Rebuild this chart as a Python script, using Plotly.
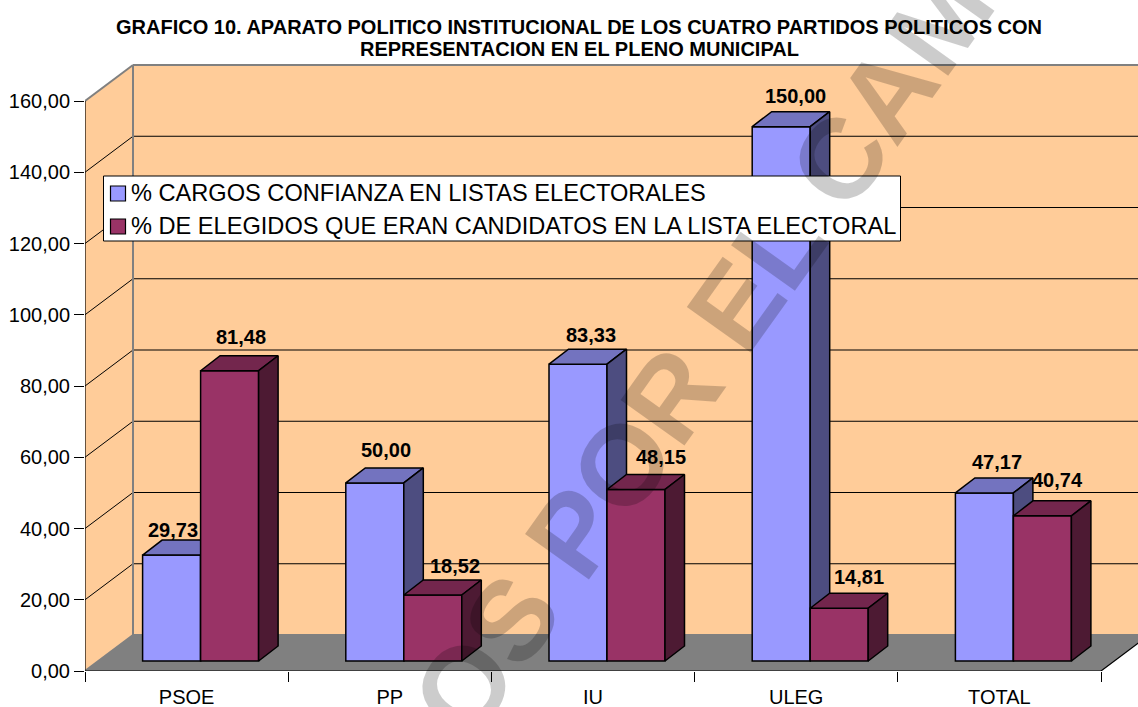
import plotly.graph_objects as go

categories = ["PSOE", "PP", "IU", "ULEG", "TOTAL"]
cargos = [29.73, 50.00, 83.33, 150.00, 47.17]
elegidos = [81.48, 18.52, 48.15, 14.81, 40.74]
y_ticks = [0, 20, 40, 60, 80, 100, 120, 140, 160]
name_cargos = "% CARGOS CONFIANZA EN LISTAS ELECTORALES"
name_elegidos = "% DE ELEGIDOS QUE ERAN CANDIDATOS EN LA LISTA ELECTORAL"
title_line1 = "GRAFICO 10. APARATO POLITICO INSTITUCIONAL DE LOS CUATRO PARTIDOS POLITICOS CON"
title_line2 = "REPRESENTACION EN EL PLENO MUNICIPAL"
watermark = "OS POR EL CAM"

# label offsets relative to the front top-centre of each bar (px)
off_cargos = [(1, 25), (11, 33), (13, 29), (14, 31), (13, 31)]
off_elegidos = [(11, 34), (22, 29), (25, 32), (20, 31), (15, 36)]

W, H = 1138, 707
FONT = "Liberation Sans, Arial, sans-serif"
PX_X = 203.2        # px per category
PX_Y = 3.5625       # px per value unit
X_LEFT, Y_ZERO, Y_TOP = 85, 671, 58.25
xmin = -0.5
xmax = xmin + (W - X_LEFT) / PX_X
ymax = (Y_ZERO - Y_TOP) / PX_Y
wall_dx, wall_dy = 48 / PX_X, 36 / PX_Y
bar_dx, bar_dy = 19.5 / PX_X, 15 / PX_Y
floor_base = 10 / PX_Y
bar_w = 58 / PX_X
off_a, off_b = -15 / PX_X, 43 / PX_X
top_val = y_ticks[-1]


def poly(points):
    return "M" + "L".join(f"{x},{y}" for x, y in points) + "Z"


shapes = []
WALL, FLOOR, GREY = "#FFCC99", "#808080", "#808080"
xr = xmin + wall_dx
# back wall and side wall
shapes.append(dict(type="rect", x0=xr, x1=xmax, y0=wall_dy, y1=top_val + wall_dy,
                   fillcolor=WALL, line_width=0, layer="below"))
shapes.append(dict(type="path", path=poly([(xmin, 0), (xr, wall_dy), (xr, top_val + wall_dy), (xmin, top_val)]),
                   fillcolor=WALL, line_width=0, layer="below"))
# floor
shapes.append(dict(type="path", path=poly([(xmin, 0), (4.5, 0), (4.5 + wall_dx, wall_dy), (xr, wall_dy)]),
                   fillcolor=FLOOR, line_width=0, layer="below"))
# gridlines
for t in y_ticks[1:-1]:
    shapes.append(dict(type="line", x0=xr, x1=xmax, y0=t + wall_dy, y1=t + wall_dy,
                       line=dict(color="#000000", width=1), layer="below"))
    shapes.append(dict(type="line", x0=xmin, x1=xr, y0=t, y1=t + wall_dy,
                       line=dict(color="#000000", width=1), layer="below"))
# wall borders
for a, b in [((xr, wall_dy), (xr, top_val + wall_dy)), ((xr, top_val + wall_dy), (xmax, top_val + wall_dy)),
             ((xmin, top_val), (xr, top_val + wall_dy)), ((xr, wall_dy), (xmax, wall_dy)),
             ((xmin, 0), (xr, wall_dy))]:
    shapes.append(dict(type="line", x0=a[0], y0=a[1], x1=b[0], y1=b[1],
                       line=dict(color=GREY, width=2), layer="below"))
# axis lines
for a, b in [((xmin, 0), (xmin, top_val)), ((xmin, 0), (4.5, 0)), ((4.5, 0), (4.5 + wall_dx, wall_dy))]:
    shapes.append(dict(type="line", x0=a[0], y0=a[1], x1=b[0], y1=b[1],
                       line=dict(color="#000000", width=1.2), layer="below"))

# legend box (paper coordinates) drawn above the chart
def px(v):
    return v / W


def py(v):
    return 1 - v / H


shapes.append(dict(type="rect", xref="paper", yref="paper", x0=px(103.5), x1=px(900.5), y0=py(176), y1=py(241),
                   fillcolor="#FFFFFF", line=dict(color="#000000", width=1), layer="above"))
shapes.append(dict(type="rect", xref="paper", yref="paper", x0=px(110.5), x1=px(125.5), y0=py(186), y1=py(201),
                   fillcolor="#9999FF", line=dict(color="#000000", width=1.2), layer="above"))
shapes.append(dict(type="rect", xref="paper", yref="paper", x0=px(110.5), x1=px(125.5), y0=py(219), y1=py(234),
                   fillcolor="#993366", line=dict(color="#000000", width=1.2), layer="above"))

fig = go.Figure()


def add_series(name, vals, offset, front, top, side, xa, ya):
    xs = [i + offset for i in range(len(vals))]
    fig.add_trace(go.Bar(x=xs, y=vals, base=[floor_base] * len(vals), width=bar_w, name=name,
                         marker=dict(color=front, line=dict(color="#000000", width=1.5)),
                         xaxis=xa, yaxis=ya, showlegend=False, hoverinfo="y"))
    for x, v in zip(xs, vals):
        l, r = x - bar_w / 2, x + bar_w / 2
        t = v + floor_base
        fig.add_trace(go.Scatter(x=[l, r, r + bar_dx, l + bar_dx, l], y=[t, t, t + bar_dy, t + bar_dy, t],
                                 fill="toself", fillcolor=top, mode="lines",
                                 line=dict(color="#000000", width=1.5), xaxis=xa, yaxis=ya,
                                 showlegend=False, hoverinfo="skip"))
        fig.add_trace(go.Scatter(x=[r, r + bar_dx, r + bar_dx, r, r],
                                 y=[floor_base, floor_base + bar_dy, t + bar_dy, t, floor_base],
                                 fill="toself", fillcolor=side, mode="lines",
                                 line=dict(color="#000000", width=1.5), xaxis=xa, yaxis=ya,
                                 showlegend=False, hoverinfo="skip"))


add_series(name_cargos, cargos, off_a, "#9999FF", "#7373BF", "#4D4D80", "x", "y")
add_series(name_elegidos, elegidos, off_b, "#993366", "#73264D", "#4D1A33", "x2", "y2")

annotations = []
VAL_SIZE = 20
for vals, offset, offs in [(cargos, off_a, off_cargos), (elegidos, off_b, off_elegidos)]:
    for i, (v, o) in enumerate(zip(vals, offs)):
        annotations.append(dict(x=i + offset, y=v + floor_base, xref="x", yref="y",
                                text=f"<b>{v:.2f}</b>".replace(".", ","), showarrow=False,
                                xanchor="center", yanchor="middle", xshift=o[0], yshift=o[1],
                                font=dict(family=FONT, size=VAL_SIZE, color="#000000")))
for name, yc in [(name_cargos, 193), (name_elegidos, 226)]:
    annotations.append(dict(x=px(130), y=py(yc), xref="paper", yref="paper", text=name, showarrow=False,
                            xanchor="left", yanchor="middle", xshift=-1,
                            font=dict(family=FONT, size=23.6, color="#000000")))
annotations.append(dict(x=px(579), y=py(49), xref="paper", yref="paper", text=f"<b>{title_line2}</b>",
                        showarrow=False, xanchor="center", yanchor="middle",
                        font=dict(family=FONT, size=20, color="#000000")))
annotations.append(dict(x=px(702), y=py(352), xref="paper", yref="paper", text=f"<b>{watermark}</b>",
                        showarrow=False, textangle=-54.5, xanchor="center", yanchor="middle",
                        font=dict(family=FONT, size=114, color="rgba(0,0,0,0.2)")))

dom_x = [X_LEFT / W, 1]
dom_y = [(H - Y_ZERO) / H, (H - Y_TOP) / H]
fig.update_layout(
    width=W, height=H, margin=dict(l=0, r=0, t=0, b=0, autoexpand=False),
    paper_bgcolor="#FFFFFF", plot_bgcolor="rgba(0,0,0,0)", separators=",.",
    showlegend=False, shapes=shapes, annotations=annotations,
    title=dict(text=f"<b>{title_line1}</b>", x=579 / W, xanchor="center", y=1 - 27 / H, yanchor="middle",
               font=dict(family=FONT, size=20, color="#000000")),
    font=dict(family=FONT, color="#000000"),
    xaxis=dict(domain=dom_x, range=[xmin, xmax], tickmode="array", tickvals=list(range(5)), ticktext=categories,
               ticks="", showgrid=False, zeroline=False, showline=False, anchor="y",
               tickfont=dict(family=FONT, size=20), ticklabelstandoff=12,
               minor=dict(tickmode="array", tickvals=[i - 0.5 for i in range(6)], ticks="outside", ticklen=10,
                          tickwidth=1, tickcolor="#000000", showgrid=False)),
    yaxis=dict(domain=dom_y, range=[0, ymax], tickmode="array", tickvals=y_ticks, tickformat=".2f",
               ticks="outside", ticklen=10, tickwidth=1, tickcolor="#000000", showgrid=False, zeroline=False,
               showline=False, anchor="x", tickfont=dict(family=FONT, size=20)),
    xaxis2=dict(domain=dom_x, range=[xmin, xmax], overlaying="x", visible=False, anchor="y2"),
    yaxis2=dict(domain=dom_y, range=[0, ymax], overlaying="y", visible=False, anchor="x2"),
)

fig.write_html("out.html", config=dict(displayModeBar=False),
               post_script="document.body.style.margin='0';document.documentElement.style.overflow='hidden';")
